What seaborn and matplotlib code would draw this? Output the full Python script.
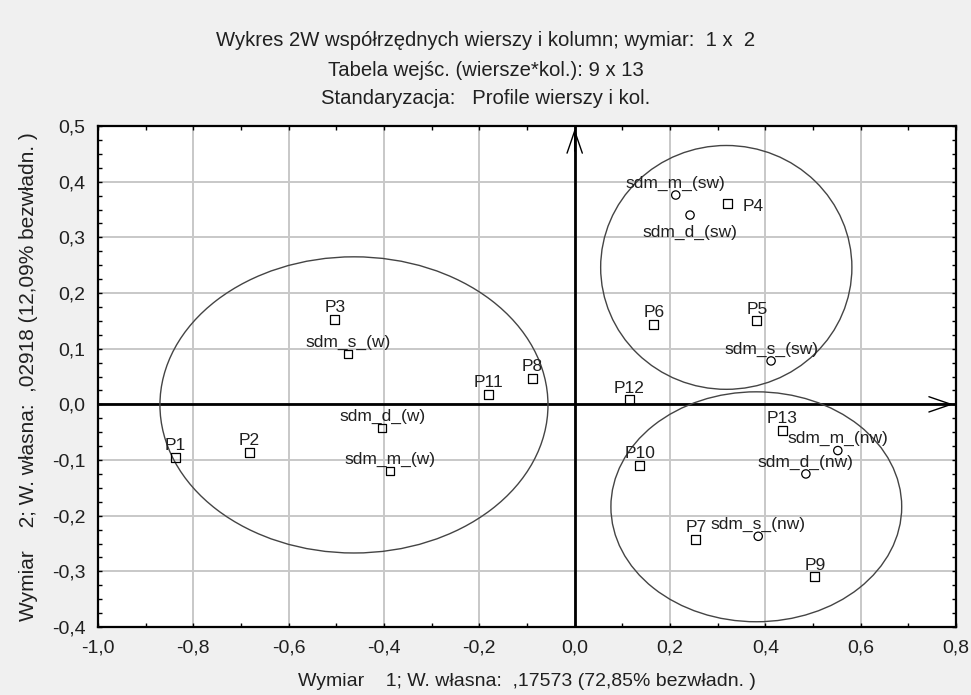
import numpy as np
import pandas as pd
import matplotlib
matplotlib.use("Agg")
import matplotlib.pyplot as plt
import seaborn as sns
from matplotlib.patches import Ellipse
from matplotlib.ticker import MultipleLocator, FuncFormatter

# ---------------- data ----------------
row_labels = ["P1", "P2", "P3", "P4", "P5", "P6", "P7", "P8", "P9", "P10", "P11", "P12", "P13"]
row_x = [-0.838, -0.683, -0.503, 0.321, 0.382, 0.166, 0.254, -0.089, 0.504, 0.137, -0.181, 0.115, 0.436]
row_y = [-0.096, -0.087, 0.153, 0.361, 0.150, 0.144, -0.243, 0.047, -0.310, -0.109, 0.018, 0.008, -0.047]

col_labels = ["sdm_s_(w)", "sdm_d_(w)", "sdm_m_(w)",
              "sdm_m_(sw)", "sdm_d_(sw)", "sdm_s_(sw)",
              "sdm_m_(nw)", "sdm_d_(nw)", "sdm_s_(nw)"]
col_x = [-0.475, -0.404, -0.387, 0.212, 0.242, 0.412, 0.552, 0.485, 0.385]
col_y = [0.090, -0.043, -0.120, 0.376, 0.340, 0.078, -0.083, -0.125, -0.237]
col_group = ["w", "w", "w", "sw", "sw", "sw", "nw", "nw", "nw"]

# group ellipses (centre x, centre y, width, height) in data units
ell_cx = [-0.463, 0.318, 0.381]
ell_cy = [-0.001, 0.246, -0.184]
ell_w = [0.814, 0.527, 0.610]
ell_h = [0.532, 0.438, 0.413]

title_lines = ["Wykres 2W współrzędnych wierszy i kolumn; wymiar:  1 x  2",
               "Tabela wejśc. (wiersze*kol.): 9 x 13",
               "Standaryzacja:   Profile wierszy i kol."]
xlabel = "Wymiar    1; W. własna:  ,17573 (72,85% bezwładn. )"
ylabel = "Wymiar    2; W. własna:  ,02918 (12,09% bezwładn. )"

# ---------------- style ----------------
sns.set_style("white")
plt.rcParams["font.family"] = ["Liberation Sans", "DejaVu Sans"]

fig = plt.figure(figsize=(9.71, 6.95), dpi=100, facecolor="#f0f0f0")
ax = fig.add_axes([0.1009, 0.0978, 0.8837, 0.7209])
ax.set_facecolor("white")

rows = pd.DataFrame({"x": row_x, "y": row_y, "label": row_labels})
cols = pd.DataFrame({"x": col_x, "y": col_y, "label": col_labels, "group": col_group})
cols["kind"] = np.where(cols["group"] == "w", "sq", "ci")

sns.scatterplot(data=rows, x="x", y="y", marker="s", s=42, color="black", ax=ax, zorder=5)
ax.collections[-1].set_facecolor("none")
ax.collections[-1].set_edgecolor("black")
ax.collections[-1].set_linewidth(0.9)

sns.scatterplot(data=cols, x="x", y="y", style="kind", markers={"sq": "s", "ci": "o"},
                s=36, color="black", ax=ax, zorder=5, legend=False)
ax.collections[-1].set_facecolor("none")
ax.collections[-1].set_edgecolor("black")
ax.collections[-1].set_linewidth(0.9)

# labels
label_place = {"P4": "right", "sdm_d_(sw)": "below"}
fs_lab = 12.5
for lab, x, y in zip(row_labels + col_labels, row_x + col_x, row_y + col_y):
    place = label_place.get(lab, "above")
    if place == "right":
        ax.annotate(lab, (x, y), xytext=(11, -2), textcoords="offset points",
                    ha="left", va="center", fontsize=fs_lab, color="#202020", zorder=6)
    elif place == "below":
        ax.annotate(lab, (x, y), xytext=(0, -12.5), textcoords="offset points",
                    ha="center", va="center", fontsize=fs_lab, color="#202020", zorder=6)
    else:
        ax.annotate(lab, (x, y), xytext=(0, 8.5), textcoords="offset points",
                    ha="center", va="center", fontsize=fs_lab, color="#202020", zorder=6)

for cx, cy, w, h in zip(ell_cx, ell_cy, ell_w, ell_h):
    ax.add_patch(Ellipse((cx, cy), w, h, fill=False, edgecolor="#444444", lw=1.0, zorder=4))

ax.set_xlim(-1.0, 0.8)
ax.set_ylim(-0.4, 0.5)

# zero axes with arrows
ax.axhline(0, color="black", lw=2, zorder=3)
ax.axvline(0, color="black", lw=2, zorder=3)
ax.annotate("", xy=(0, 0.5), xytext=(0, 0.45),
            arrowprops=dict(arrowstyle="->,head_length=1.6,head_width=0.55", lw=1, color="black"),
            zorder=3, annotation_clip=False)
ax.annotate("", xy=(0.8, 0), xytext=(0.75, 0),
            arrowprops=dict(arrowstyle="->,head_length=1.6,head_width=0.55", lw=1, color="black"),
            zorder=3, annotation_clip=False)

ax.xaxis.set_major_locator(MultipleLocator(0.2))
ax.xaxis.set_minor_locator(MultipleLocator(0.1))
ax.yaxis.set_major_locator(MultipleLocator(0.1))
ax.yaxis.set_minor_locator(MultipleLocator(0.025))
fmt = FuncFormatter(lambda v, p: f"{v:.1f}".replace(".", ",").replace("-0,0", "0,0"))
ax.xaxis.set_major_formatter(fmt)
ax.yaxis.set_major_formatter(fmt)
ax.grid(True, which="major", color="#c8c8c8", lw=1.4, zorder=0)
ax.set_axisbelow(True)
ax.tick_params(which="both", direction="in", top=True, right=True, bottom=True, left=True,
               length=3, width=1, color="black", labelsize=14, labelcolor="#202020")
ax.tick_params(axis="y", pad=9)
ax.tick_params(axis="x", pad=9)
for sp in ax.spines.values():
    sp.set_visible(True)
    sp.set_color("black")
    sp.set_linewidth(1.6)

ax.set_xlabel(xlabel, fontsize=14, color="#202020", labelpad=12)
ax.set_ylabel(ylabel, fontsize=15, color="#202020", labelpad=10)

for i, t in enumerate(title_lines):
    fig.text(0.5, 1 - (41 + 29 * i) / 695, t, ha="center", va="center", fontsize=14.6, color="#202020")

fig.savefig("out.png", dpi=100, facecolor=fig.get_facecolor())
